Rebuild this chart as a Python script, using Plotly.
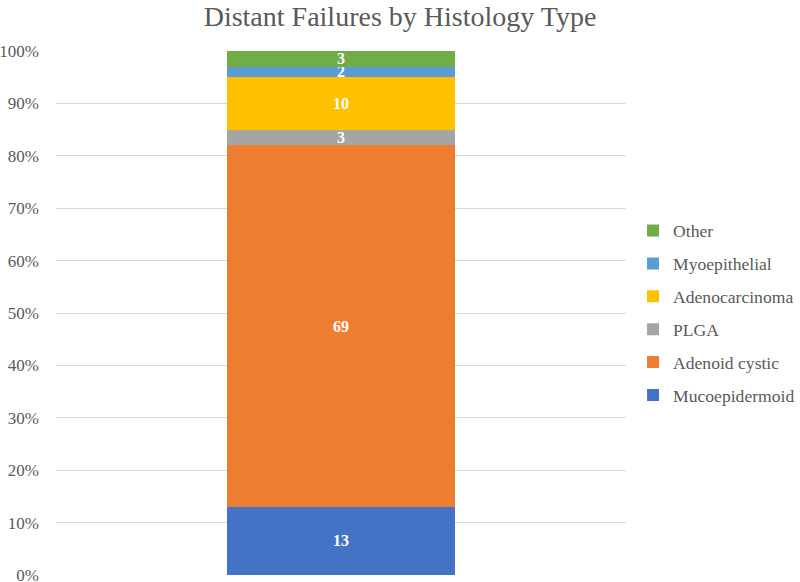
import plotly.graph_objects as go

categories = ["Distant Failures"]
series_names = ["Mucoepidermoid", "Adenoid cystic", "PLGA", "Adenocarcinoma", "Myoepithelial", "Other"]
series_values = [13, 69, 3, 10, 2, 3]
colors = ["#4472C4", "#ED7D31", "#A5A5A5", "#FFC000", "#5B9BD5", "#70AD47"]
tick_vals = [0, 10, 20, 30, 40, 50, 60, 70, 80, 90, 100]
tick_text = [f"{v}%" for v in tick_vals]

SERIF = "Liberation Serif"

fig = go.Figure()
for i, (name, val, col) in enumerate(zip(series_names, series_values, colors)):
    fig.add_trace(go.Bar(
        x=categories, y=[val], name=name, legendgroup=name,
        legendrank=len(series_names) - i,
        marker=dict(color=col, line=dict(width=0)),
        text=[str(val)], textposition="inside", insidetextanchor="middle",
        constraintext="none", textangle=0,
        textfont=dict(family=SERIF, size=16, color="white", weight="bold"),
        hoverinfo="name+y",
    ))

fig.update_layout(
    barmode="stack",
    barnorm="percent",
    bargap=0.6,
    width=800, height=582,
    margin=dict(l=56, r=168, t=51, b=7),
    paper_bgcolor="white", plot_bgcolor="white",
    font=dict(family=SERIF, size=16, color="#595959"),
    title=dict(text="Distant Failures by Histology Type", x=0.5, xanchor="center",
               y=0.973, yanchor="middle",
               font=dict(family=SERIF, size=28, color="#595959")),
    showlegend=True,
    legend=dict(xref="container", x=0.7913, xanchor="left",
                yref="container", y=0.462, yanchor="middle",
                traceorder="grouped", tracegroupgap=7,
                bgcolor="rgba(0,0,0,0)",
                font=dict(family=SERIF, size=17.6, color="#595959")),
    xaxis=dict(showticklabels=False, showgrid=False, zeroline=False, showline=False),
    yaxis=dict(range=[0, 100], tickvals=tick_vals, ticktext=tick_text,
               tickfont=dict(family=SERIF, size=17, color="#595959"),
               showgrid=True, gridcolor="#D9D9D9", gridwidth=1, zeroline=False,
               showline=False, ticks="", ticklabelstandoff=16, ticklabeloverflow="allow",
               automargin=False),
)

fig.write_html("out.html", config={"displayModeBar": False},
               post_script="document.body.style.margin='0';document.body.style.padding='0';")
